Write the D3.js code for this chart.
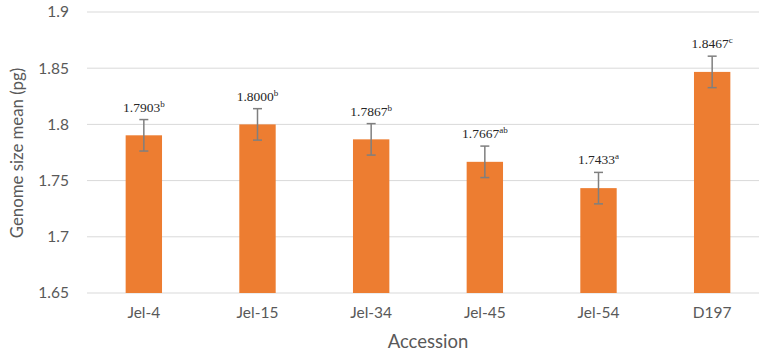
<!DOCTYPE html>
<html>
<head>
<meta charset="utf-8">
<script src="https://cdn.jsdelivr.net/npm/d3@7"></script>
<style>
  html, body { margin: 0; padding: 0; background: #ffffff; }
  svg { display: block; }
</style>
</head>
<body>
<svg id="chart" width="759" height="352"></svg>
<script>
// Genome size per accession, with standard error and significance letters
const accessions = ["Jel-4", "Jel-15", "Jel-34", "Jel-45", "Jel-54", "D197"];
const meanValues = [1.7903, 1.8000, 1.7867, 1.7667, 1.7433, 1.8467];
const errorValues = [0.014, 0.014, 0.014, 0.014, 0.014, 0.014];
const groupLetters = ["b", "b", "b", "ab", "a", "c"];
const yTicks = [1.65, 1.7, 1.75, 1.8, 1.85, 1.9];

const svg = d3.select("#chart");
const sansFont = "Lato, 'Open Sans', sans-serif";
const serifFont = "'Liberation Serif', 'DejaVu Serif', serif";

const x = d3.scaleBand()
  .domain(accessions)
  .range([87, 769])
  .paddingInner(0.68)
  .paddingOuter(0.34);

const y = d3.scaleLinear()
  .domain([1.65, 1.9])
  .range([293, 12]);

// horizontal gridlines
svg.append("g")
  .selectAll("line")
  .data(yTicks)
  .join("line")
  .attr("x1", 87)
  .attr("x2", 759)
  .attr("y1", d => y(d))
  .attr("y2", d => y(d))
  .attr("stroke", "#d9d9d9")
  .attr("stroke-width", 1);

// y axis tick labels
const yAxis = svg.append("g")
  .attr("transform", "translate(76,0)")
  .call(d3.axisLeft(y).tickValues(yTicks).tickSize(0).tickPadding(7).tickFormat(d3.format("")));
yAxis.select(".domain").remove();
yAxis.selectAll("text")
  .attr("font-family", sansFont)
  .attr("font-size", 15.5)
  .attr("fill", "#595959");

// bars
svg.append("g")
  .selectAll("rect")
  .data(accessions)
  .join("rect")
  .attr("x", d => x(d))
  .attr("width", x.bandwidth())
  .attr("y", (d, i) => y(meanValues[i]))
  .attr("height", (d, i) => y(1.65) - y(meanValues[i]))
  .attr("fill", "#ed7d31");

// error bars
const err = svg.append("g")
  .attr("stroke", "#7f7f7f")
  .attr("stroke-width", 1.5);
accessions.forEach((a, i) => {
  const cx = x(a) + x.bandwidth() / 2;
  const top = y(meanValues[i] + errorValues[i]);
  const bot = y(meanValues[i] - errorValues[i]);
  err.append("line").attr("x1", cx).attr("x2", cx).attr("y1", top).attr("y2", bot);
  err.append("line").attr("x1", cx - 4.5).attr("x2", cx + 4.5).attr("y1", top).attr("y2", top);
  err.append("line").attr("x1", cx - 4.5).attr("x2", cx + 4.5).attr("y1", bot).attr("y2", bot);
});

// value labels with significance superscripts
const labels = svg.append("g")
  .selectAll("text")
  .data(accessions)
  .join("text")
  .attr("x", d => x(d) + x.bandwidth() / 2)
  .attr("y", (d, i) => y(meanValues[i] + errorValues[i]) - 8)
  .attr("text-anchor", "middle")
  .attr("font-family", serifFont)
  .attr("font-size", 13.5)
  .attr("fill", "#262626");
labels.append("tspan").text((d, i) => d3.format(".4f")(meanValues[i]));
labels.append("tspan")
  .attr("font-size", 9)
  .attr("dy", -5)
  .text((d, i) => groupLetters[i]);

// x axis category labels
const xAxis = svg.append("g")
  .attr("transform", "translate(0,293)")
  .call(d3.axisBottom(x).tickSize(0).tickPadding(14));
xAxis.select(".domain").remove();
xAxis.selectAll("text")
  .attr("font-family", sansFont)
  .attr("font-size", 15.5)
  .attr("fill", "#595959");

// axis titles
svg.append("text")
  .attr("x", 428)
  .attr("y", 348)
  .attr("text-anchor", "middle")
  .attr("font-family", sansFont)
  .attr("font-size", 18.5)
  .attr("fill", "#595959")
  .text("Accession");

svg.append("text")
  .attr("transform", "translate(23,153) rotate(-90)")
  .attr("text-anchor", "middle")
  .attr("font-family", sansFont)
  .attr("font-size", 16.8)
  .attr("fill", "#595959")
  .text("Genome size mean (pg)");
</script>
</body>
</html>
